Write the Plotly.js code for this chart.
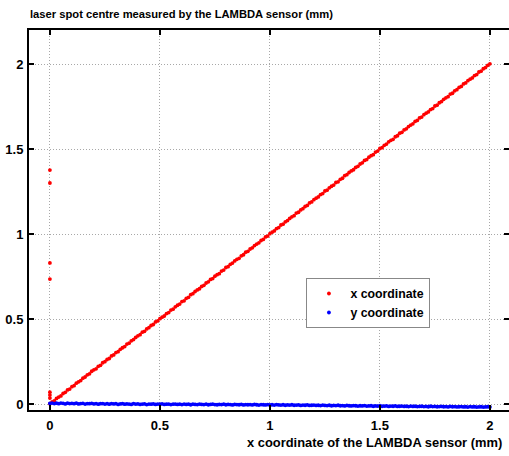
<!DOCTYPE html>
<html>
<head>
<meta charset="utf-8">
<script src="https://cdn.plot.ly/plotly-3.0.1.min.js"></script>
<style>html,body{margin:0;padding:0;background:#fff;}</style>
</head>
<body>
<div id="chart" style="width:509px;height:456px;"></div>
<script>
const chartTitle = "laser spot centre measured by the LAMBDA sensor (mm)";
const xAxisTitle = "x coordinate of the LAMBDA sensor (mm)";
const seriesNames = ["x coordinate", "y coordinate"];
const tickVals = [0, 0.5, 1, 1.5, 2];
const tickText = ["0", "0.5", "1", "1.5", "2"];

const sensorX = [0,0.01,0.02,0.03,0.04,0.05,0.06,0.07,0.08,0.09,
0.10,0.11,0.12,0.13,0.14,0.15,0.16,0.17,0.18,0.19,
0.20,0.21,0.22,0.23,0.24,0.25,0.26,0.27,0.28,0.29,
0.30,0.31,0.32,0.33,0.34,0.35,0.36,0.37,0.38,0.39,
0.40,0.41,0.42,0.43,0.44,0.45,0.46,0.47,0.48,0.49,
0.50,0.51,0.52,0.53,0.54,0.55,0.56,0.57,0.58,0.59,
0.60,0.61,0.62,0.63,0.64,0.65,0.66,0.67,0.68,0.69,
0.70,0.71,0.72,0.73,0.74,0.75,0.76,0.77,0.78,0.79,
0.80,0.81,0.82,0.83,0.84,0.85,0.86,0.87,0.88,0.89,
0.90,0.91,0.92,0.93,0.94,0.95,0.96,0.97,0.98,0.99,
1.00,1.01,1.02,1.03,1.04,1.05,1.06,1.07,1.08,1.09,
1.10,1.11,1.12,1.13,1.14,1.15,1.16,1.17,1.18,1.19,
1.20,1.21,1.22,1.23,1.24,1.25,1.26,1.27,1.28,1.29,
1.30,1.31,1.32,1.33,1.34,1.35,1.36,1.37,1.38,1.39,
1.40,1.41,1.42,1.43,1.44,1.45,1.46,1.47,1.48,1.49,
1.50,1.51,1.52,1.53,1.54,1.55,1.56,1.57,1.58,1.59,
1.60,1.61,1.62,1.63,1.64,1.65,1.66,1.67,1.68,1.69,
1.70,1.71,1.72,1.73,1.74,1.75,1.76,1.77,1.78,1.79,
1.80,1.81,1.82,1.83,1.84,1.85,1.86,1.87,1.88,1.89,
1.90,1.91,1.92,1.93,1.94,1.95,1.96,1.97,1.98,1.99,
2.00];

const measuredX = [0.002,0.013,0.018,0.033,0.041,0.048,0.062,0.069,0.083,0.088,
0.102,0.108,0.123,0.131,0.138,0.152,0.159,0.172,0.178,0.193,
0.201,0.207,0.222,0.228,0.243,0.249,0.262,0.268,0.283,0.289,
0.303,0.308,0.322,0.331,0.338,0.353,0.358,0.372,0.379,0.392,
0.401,0.408,0.423,0.428,0.442,0.449,0.462,0.468,0.483,0.489,
0.502,0.511,0.518,0.532,0.538,0.553,0.558,0.572,0.581,0.588,
0.603,0.607,0.622,0.628,0.643,0.649,0.662,0.671,0.678,0.692,
0.698,0.712,0.719,0.733,0.738,0.752,0.761,0.767,0.782,0.788,
0.803,0.808,0.822,0.829,0.842,0.851,0.857,0.872,0.878,0.893,
0.898,0.912,0.919,0.932,0.941,0.948,0.962,0.968,0.983,0.988,
1.002,1.011,1.018,1.032,1.038,1.053,1.058,1.072,1.079,1.092,
1.101,1.108,1.123,1.128,1.142,1.149,1.162,1.168,1.183,1.189,
1.202,1.211,1.218,1.232,1.238,1.253,1.258,1.272,1.281,1.288,
1.303,1.307,1.322,1.328,1.343,1.349,1.362,1.371,1.378,1.392,
1.398,1.412,1.419,1.433,1.438,1.452,1.461,1.467,1.482,1.488,
1.503,1.508,1.522,1.529,1.542,1.551,1.557,1.572,1.578,1.593,
1.598,1.612,1.619,1.632,1.641,1.648,1.662,1.668,1.683,1.688,
1.702,1.711,1.718,1.732,1.738,1.753,1.758,1.772,1.779,1.792,
1.801,1.808,1.823,1.828,1.842,1.849,1.862,1.868,1.883,1.889,
1.902,1.911,1.918,1.932,1.938,1.953,1.958,1.972,1.979,1.992,
2.001];

const measuredY = [0.004,0.006,0.003,0.005,0.002,0.006,0.004,0.001,0.005,0.003,
0.004,0.002,0.005,0.001,0.003,0.004,0.000,0.003,0.002,0.004,
0.001,0.003,-0.001,0.002,0.003,0.000,0.002,-0.001,0.003,0.001,
0.002,-0.002,0.001,0.002,-0.001,0.001,0.000,-0.002,0.002,0.000,
0.001,-0.002,0.000,0.001,-0.003,0.000,-0.001,0.001,-0.002,0.000,
-0.001,0.001,-0.002,-0.001,0.000,-0.003,-0.001,0.000,-0.002,-0.001,
-0.003,0.000,-0.002,-0.001,-0.004,-0.001,-0.002,-0.003,0.000,-0.002,
-0.003,-0.001,-0.004,-0.002,-0.001,-0.003,-0.004,-0.002,-0.003,-0.001,
-0.004,-0.002,-0.003,-0.005,-0.002,-0.003,-0.004,-0.002,-0.005,-0.003,
-0.004,-0.003,-0.005,-0.002,-0.004,-0.006,-0.003,-0.004,-0.005,-0.003,
-0.005,-0.004,-0.006,-0.003,-0.005,-0.006,-0.004,-0.007,-0.005,-0.006,
-0.004,-0.007,-0.006,-0.005,-0.008,-0.006,-0.007,-0.005,-0.008,-0.007,
-0.006,-0.008,-0.007,-0.009,-0.006,-0.008,-0.009,-0.007,-0.010,-0.008,
-0.009,-0.007,-0.010,-0.009,-0.011,-0.008,-0.010,-0.011,-0.009,-0.010,
-0.012,-0.010,-0.011,-0.009,-0.012,-0.011,-0.010,-0.013,-0.011,-0.012,
-0.010,-0.013,-0.012,-0.011,-0.014,-0.012,-0.013,-0.011,-0.014,-0.013,
-0.012,-0.014,-0.013,-0.015,-0.012,-0.014,-0.013,-0.015,-0.014,-0.013,
-0.015,-0.014,-0.016,-0.013,-0.015,-0.014,-0.016,-0.015,-0.014,-0.016,
-0.015,-0.017,-0.014,-0.016,-0.015,-0.017,-0.016,-0.015,-0.017,-0.016,
-0.018,-0.015,-0.017,-0.016,-0.018,-0.017,-0.016,-0.018,-0.017,-0.016,
-0.017];

// spurious readings at the start position
const outlierX = [0, 0, 0, 0, 0, 0, 0];
const outlierMeasuredX = [1.376, 1.30, 0.83, 0.735, 0.07, 0.053, 0.035];

const redX = sensorX.concat(outlierX);
const redY = measuredX.concat(outlierMeasuredX);

const FONT = 'Liberation Sans, Arial, Helvetica, sans-serif';

const traces = [
  {x: redX, y: redY, name: seriesNames[0], type: 'scatter', mode: 'markers',
   marker: {color: '#ff0000', size: 3.8}},
  {x: sensorX, y: measuredY, name: seriesNames[1], type: 'scatter', mode: 'markers',
   marker: {color: '#0000ff', size: 3.8}}
];

const axisCommon = {
  tickvals: tickVals, ticktext: tickText,
  ticks: 'inside', ticklen: 5, tickwidth: 2, tickcolor: '#000',
  showline: true, linecolor: '#000', linewidth: 2, mirror: 'ticks',
  showgrid: true, gridcolor: '#a8a8a8', griddash: '1px,2px', gridwidth: 1,
  zeroline: false,
  tickfont: {family: FONT, size: 13, color: '#000', weight: 700}
};

const layout = {
  width: 509, height: 456,
  margin: {l: 29, r: 0, t: 30, b: 46, pad: 0},
  paper_bgcolor: '#fff', plot_bgcolor: '#fff',
  font: {family: FONT, size: 12, color: '#000'},
  title: {text: chartTitle, xref: 'paper', yref: 'container', x: 0, xanchor: 'left',
          y: 1 - 14.5/456, yanchor: 'middle', pad: {l: 1},
          font: {family: FONT, size: 11.2, color: '#000', weight: 700}},
  xaxis: Object.assign({}, axisCommon, {range: [-0.095, 2.0868], ticklabelstandoff: 2}),
  yaxis: Object.assign({}, axisCommon, {range: [-0.035, 2.2], ticklabelstandoff: 1}),
  showlegend: true,
  legend: {x: 0.578, y: 0.3474, xanchor: 'left', yanchor: 'top',
           bgcolor: '#fff', bordercolor: '#888', borderwidth: 1, itemwidth: 33,
           font: {family: FONT, size: 12.3, color: '#000', weight: 700}},
  annotations: [{text: xAxisTitle, xref: 'paper', yref: 'paper', x: 1, y: 0,
                 xanchor: 'right', yanchor: 'top', xshift: -5, yshift: -23, showarrow: false,
                 font: {family: FONT, size: 12.9, color: '#000', weight: 700}}]
};

Plotly.newPlot('chart', traces, layout, {displayModeBar: false, staticPlot: true});
</script>
</body>
</html>
